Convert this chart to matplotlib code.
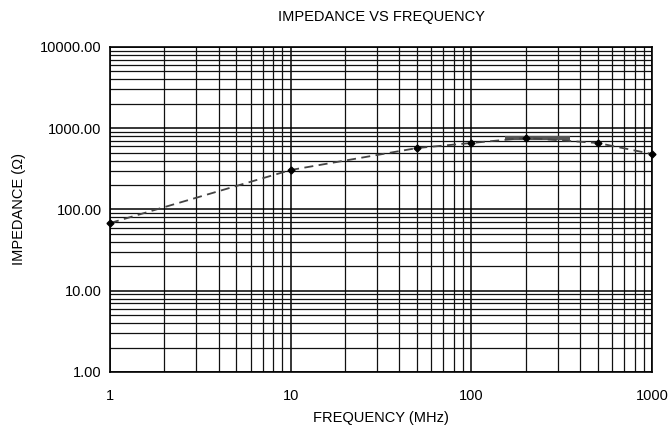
import matplotlib
matplotlib.use("Agg")
import matplotlib.pyplot as plt
from matplotlib.ticker import FixedLocator, FixedFormatter, LogLocator, NullFormatter

plt.rcParams['font.family'] = ['Liberation Sans', 'DejaVu Sans']

# data
freq = [1, 10, 50, 100, 200, 500, 1000]
impedance = [68, 306, 570, 658, 760, 658, 482]
# thick horizontal bar around the 200 MHz point
bar_freq = [153, 352]
bar_imp = [760, 760]

x_ticks = [1, 10, 100, 1000]
x_labels = ["1", "10", "100", "1000"]
y_ticks = [1, 10, 100, 1000, 10000]
y_labels = ["%.2f" % v for v in y_ticks]

fig = plt.figure(figsize=(6.72, 4.41), dpi=100)
ax = fig.add_axes([0.1637, 0.1565, 0.8066, 0.737])

ax.set_xscale('log')
ax.set_yscale('log')
ax.set_xlim(1, 1000)
ax.set_ylim(1, 10000)

ax.xaxis.set_major_locator(FixedLocator(x_ticks))
ax.xaxis.set_major_formatter(FixedFormatter(x_labels))
ax.yaxis.set_major_locator(FixedLocator(y_ticks))
ax.yaxis.set_major_formatter(FixedFormatter(y_labels))
ax.xaxis.set_minor_locator(LogLocator(base=10, subs=range(2, 10)))
ax.yaxis.set_minor_locator(LogLocator(base=10, subs=range(2, 10)))
ax.xaxis.set_minor_formatter(NullFormatter())
ax.yaxis.set_minor_formatter(NullFormatter())

ax.grid(True, which='major', color='black', lw=1.1)
ax.grid(True, which='minor', color='#111111', lw=0.9)
ax.set_axisbelow(True)

ax.tick_params(which='both', length=0)
ax.tick_params(axis='x', pad=12, labelsize=10.5)
ax.tick_params(axis='y', pad=6, labelsize=10.5)

for s in ax.spines.values():
    s.set_color('black')
    s.set_linewidth(1.2)

ax.plot(bar_freq, bar_imp, color='#555555', lw=3, solid_capstyle='butt', zorder=3)
ax.plot(freq, impedance, color='#444444', lw=1.3, ls=(0, (5, 3)), zorder=4)
ax.plot(freq, impedance, ls='none', marker='D', ms=3.5, color='black', zorder=5, clip_on=False)

ax.set_title("IMPEDANCE VS FREQUENCY", fontsize=10.5, pad=19)
ax.set_xlabel("FREQUENCY (MHz)", fontsize=10.5, labelpad=6)
ax.set_ylabel("IMPEDANCE (Ω)", fontsize=10.5, labelpad=10)

fig.savefig("out.png", dpi=100)
